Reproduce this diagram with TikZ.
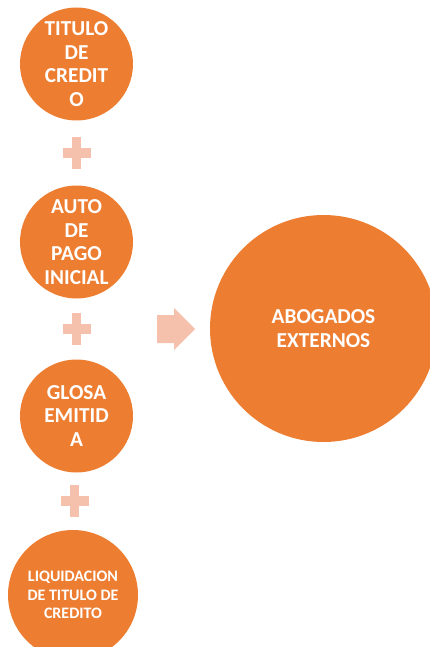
\documentclass[tikz,border=0pt]{standalone}
\usepackage{fontspec}
\setmainfont{Carlito}
\usetikzlibrary{calc}
\definecolor{orng}{RGB}{237,125,49}
\definecolor{pale}{RGB}{245,192,172}
\begin{document}
\begin{tikzpicture}[x=1pt,y=-1pt,
  bubble/.style={circle,fill=orng,text=white,inner sep=0pt,align=center,
    font=\bfseries\fontsize{21.3}{23.7}\selectfont},
  smalltext/.style={font=\bfseries\fontsize{16}{18.5}\selectfont},
  plussign/.pic={\fill[pale] (-14,-5) rectangle (14,5);
                 \fill[pale] (-4.5,-16) rectangle (4.5,16);}]
\useasboundingbox (0,0) rectangle (430,647);
\clip (0,0) rectangle (430,647);
\node[bubble,minimum size=113pt] (t) at (76.5,64) {TITULO\\DE\\CREDIT\\O};
\node[bubble,minimum size=113pt] (a) at (76.5,242) {AUTO\\DE\\PAGO\\INICIAL};
\node[bubble,minimum size=113pt] (g) at (76.5,416) {GLOSA\\EMITID\\A};
\node[bubble,smalltext,minimum size=130pt] (l) at (73,595) {LIQUIDACION\\DE TITULO DE\\CREDITO};
\node[bubble,minimum size=227pt] (b) at (323.5,328.5) {ABOGADOS\\EXTERNOS};
\pic at ($(t.south)!0.5!(a.north)$) {plussign};
\pic at ($(a.south)!0.5!(g.north)$) {plussign};
\pic at ($(g.south)!0.5!(l.north)$) {plussign};
\fill[pale] (157,315) -- (174,315) -- (174,308) -- (195,329) -- (174,350) -- (174,343) -- (157,343) -- cycle;
\end{tikzpicture}
\end{document}
